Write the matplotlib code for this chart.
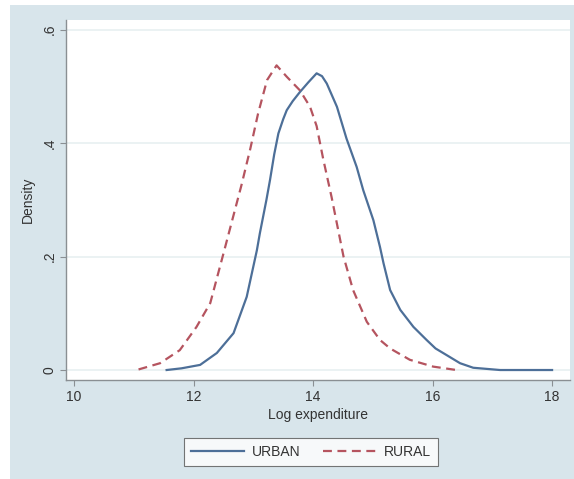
import matplotlib.pyplot as plt
from matplotlib.patches import Rectangle

plt.rcParams['font.family'] = ['Liberation Sans', 'DejaVu Sans']

# Density curves (log expenditure vs density)
urban_x = [11.55, 11.80, 12.11, 12.39, 12.67, 12.89, 13.06, 13.11, 13.22, 13.28,
           13.35, 13.42, 13.50, 13.56, 13.66, 13.78, 13.92, 14.06, 14.15, 14.23,
           14.40, 14.56, 14.73, 14.84, 15.01, 15.12, 15.18, 15.29, 15.46, 15.68,
           15.90, 16.05, 16.24, 16.46, 16.68, 17.13, 18.00]
urban_y = [0.000, 0.003, 0.009, 0.030, 0.065, 0.129, 0.211, 0.241, 0.300, 0.335,
           0.380, 0.417, 0.442, 0.458, 0.474, 0.490, 0.507, 0.523, 0.518, 0.505,
           0.464, 0.408, 0.358, 0.317, 0.264, 0.217, 0.188, 0.141, 0.106, 0.076,
           0.053, 0.038, 0.026, 0.012, 0.004, 0.000, 0.000]

rural_x = [11.08, 11.44, 11.77, 12.05, 12.28, 12.50, 12.65, 12.80, 12.95, 13.08,
           13.23, 13.39, 13.56, 13.78, 13.95, 14.06, 14.17, 14.31, 14.51, 14.67,
           14.90, 15.12, 15.29, 15.62, 16.01, 16.40]
rural_y = [0.001, 0.012, 0.035, 0.076, 0.118, 0.205, 0.265, 0.325, 0.390, 0.452,
           0.511, 0.537, 0.517, 0.493, 0.464, 0.430, 0.372, 0.305, 0.200, 0.141,
           0.085, 0.053, 0.038, 0.018, 0.006, 0.000]

x_ticks = [10, 12, 14, 16, 18]
y_ticks = [0, 0.2, 0.4, 0.6]
y_tick_labels = ['0', '.2', '.4', '.6']

fig = plt.figure(figsize=(5.74, 4.79), dpi=100, facecolor='white')

# Stata-style graph region background
bg = '#d8e5eb'
fig.patches.append(Rectangle((10 / 574, 0), 1 - 10 / 574, 1 - 5 / 479,
                             transform=fig.transFigure, facecolor=bg,
                             edgecolor='none', zorder=-10))

ax = fig.add_axes([66 / 574, 1 - 380 / 479, 504 / 574, 360 / 479])
ax.set_zorder(2)
ax.set_facecolor('white')

ax.plot(urban_x, urban_y, color='#4d6f98', lw=1.6, label='URBAN')
ax.plot(rural_x, rural_y, color='#b5545f', lw=1.6, linestyle=(0, (4, 2.5)),
        label='RURAL')

ax.set_xlim(9.866, 18.30)
ax.set_ylim(-0.0176, 0.617)
ax.set_xticks(x_ticks)
ax.set_yticks(y_ticks)
ax.set_yticklabels(y_tick_labels, rotation=90, va='center')
ax.yaxis.grid(True, color='#e8f0f1', lw=1.2)
ax.set_axisbelow(True)

for side in ['top', 'right']:
    ax.spines[side].set_visible(False)
for side in ['left', 'bottom']:
    ax.spines[side].set_color('#8a8f93')
    ax.spines[side].set_linewidth(1.0)

ax.tick_params(axis='both', colors='#8a8f93', labelcolor='#333333',
               labelsize=10, length=4, width=0.8, pad=3)

ax.set_xlabel('Log expenditure', fontsize=10, color='#333333', labelpad=3)
ax.set_ylabel('Density', fontsize=10, color='#333333', labelpad=5)

leg = fig.legend(loc='center', bbox_to_anchor=(311 / 574, 1 - 452 / 479),
                 ncol=2, fontsize=10, frameon=True, fancybox=False,
                 handlelength=3.8, handletextpad=0.6, columnspacing=1.6,
                 borderpad=0.5)
leg.set_zorder(5)
leg.get_frame().set_edgecolor('#555555')
leg.get_frame().set_linewidth(0.8)
for t in leg.get_texts():
    t.set_color('#333333')

fig.savefig('out.png', dpi=100, facecolor=fig.get_facecolor())
